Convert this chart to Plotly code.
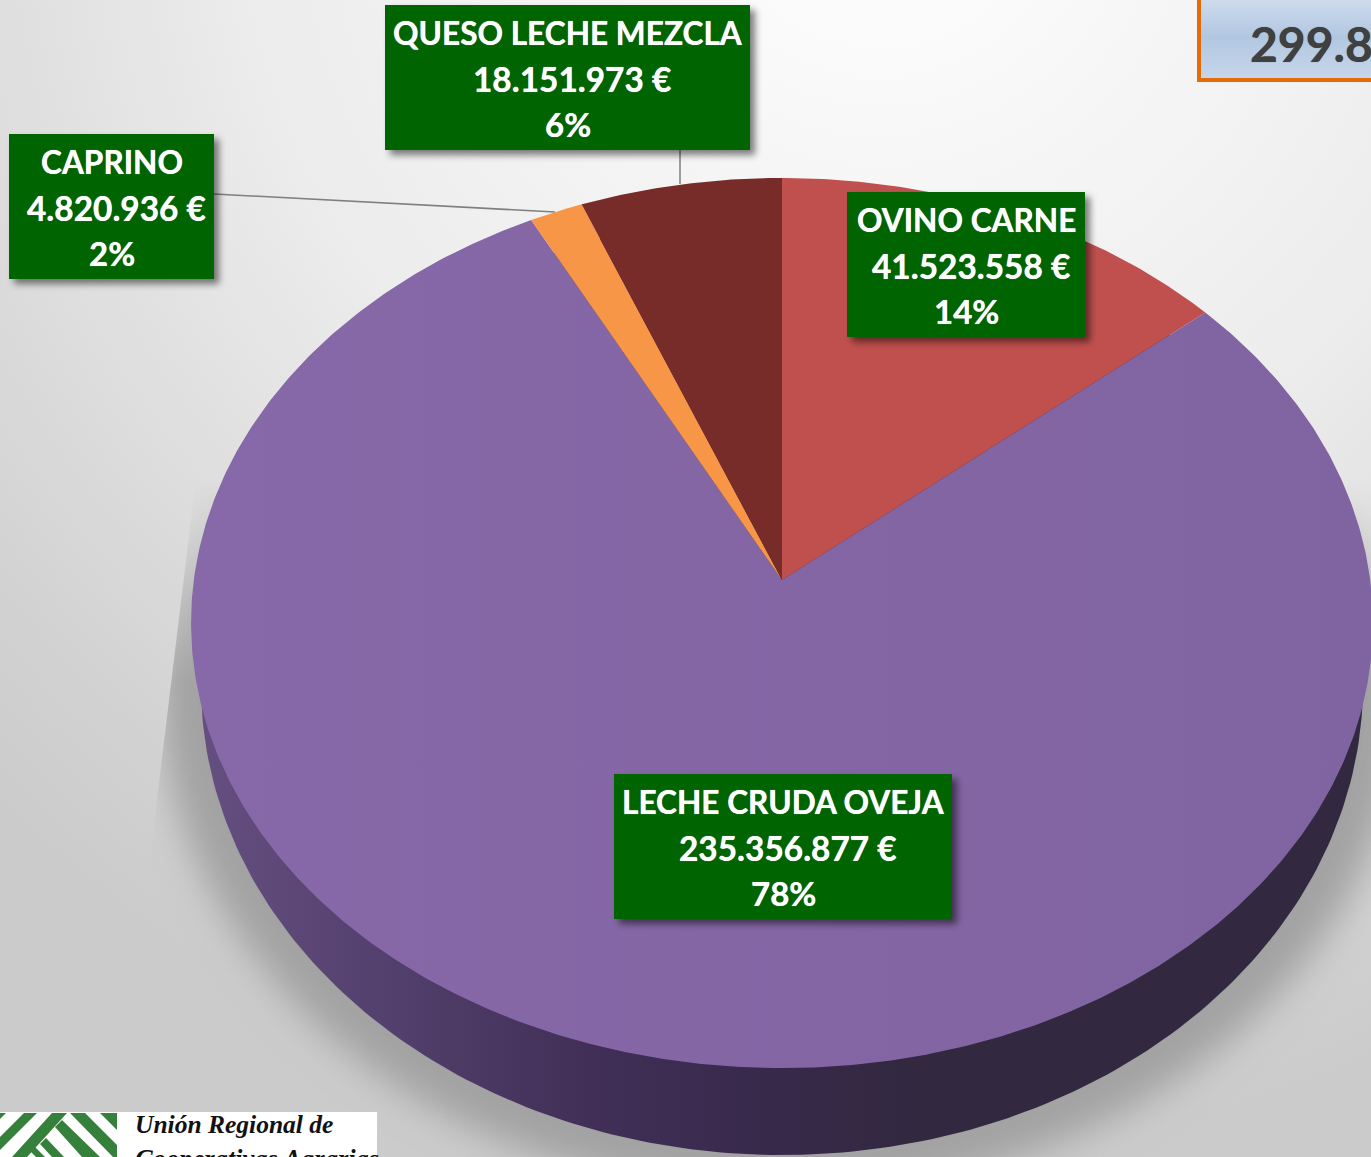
import base64
import numpy as np
import plotly.graph_objects as go

# ---- data ----
SECTORES = ["OVINO CARNE", "LECHE CRUDA OVEJA", "CAPRINO", "QUESO LECHE MEZCLA"]
IMPORTES = [41523558, 235356877, 4820936, 18151973]
COLORES = ["#c0504d", "#8365a4", "#f79646", "#772c2a"]
TOTAL_VISIBLE = "299.8"
LOGO_LINEAS = ["Unión Regional de", "Cooperativas Agrarias"]

# ---- layout constants (canvas pixels) ----
W, H = 1371, 1157
CX, CY = 782, 580        # vanishing centre of the tilted disc
A, B, K = 588.2, 440.9, -0.0966
LOW_CY, LOW_RX, LOW_RY = 685, 581, 470
CAJAS = {  # x0, y0, x1, y1
    "OVINO CARNE": (847, 192, 1085, 337),
    "LECHE CRUDA OVEJA": (614, 774, 952, 919),
    "CAPRINO": (9, 134, 214, 279),
    "QUESO LECHE MEZCLA": (385, 5, 750, 150),
}
FONT = "Lato"
THICK = "0 0 0.7px #ffffff"


def disc(theta):
    u, v = np.sin(theta), -np.cos(theta)
    d = 1 + K * v
    return CX + A * u / d, CY + B * v / d


def euro(v):
    return f"{v:,}".replace(",", ".") + " €"


svg = f'''<svg xmlns="http://www.w3.org/2000/svg" width="{W}" height="{H}" viewBox="0 0 {W} {H}">
<defs>
<radialGradient id="bg" gradientUnits="userSpaceOnUse" cx="880" cy="-120" r="1290">
<stop offset="0" stop-color="#ffffff"/><stop offset="0.5" stop-color="#ececec"/>
<stop offset="0.9" stop-color="#d0d0d0"/><stop offset="1" stop-color="#cbcbcb"/></radialGradient>
<linearGradient id="box" x1="0" y1="0" x2="0" y2="1">
<stop offset="0" stop-color="#d2deee"/><stop offset="0.5" stop-color="#b1c7e1"/><stop offset="1" stop-color="#c8d7ea"/></linearGradient>
<linearGradient id="fade" gradientUnits="userSpaceOnUse" x1="0" y1="480" x2="0" y2="680">
<stop offset="0" stop-color="#000"/><stop offset="1" stop-color="#fff"/></linearGradient>
<mask id="m" maskUnits="userSpaceOnUse" x="0" y="0" width="{W}" height="{H}"><rect width="{W}" height="{H}" fill="url(#fade)"/></mask>
<filter id="b" x="-30%" y="-30%" width="160%" height="160%"><feGaussianBlur stdDeviation="18"/></filter>
<clipPath id="c"><polygon points="197,470 146,890 146,1157 1371,1157 1371,470"/></clipPath>
</defs>
<rect width="{W}" height="{H}" fill="url(#bg)"/>
<g clip-path="url(#c)"><g mask="url(#m)"><ellipse cx="782" cy="685" rx="623" ry="510" fill="#a2a2a2" filter="url(#b)"/></g></g>
<rect x="1199" y="-6" width="200" height="86" fill="url(#box)" stroke="#e36c09" stroke-width="4"/>
<rect x="0" y="1112" width="377" height="45" fill="#ffffff"/>
<g fill="#35803a">
<polygon points="0,1113 6,1113 0,1119"/>
<polygon points="24,1113 37,1113 0,1150 0,1137"/>
<polygon points="52,1113 67,1113 27,1157 12,1157"/>
<polygon points="55,1127 62,1120 100,1157 82,1157"/>
<polygon points="70,1113 85,1113 117,1145 117,1157 113,1157"/>
<polygon points="100,1113 117,1113 117,1130"/>
<polygon points="40,1144 46,1138 64,1157 52,1157"/>
<polygon points="31,1152 35,1147 45,1157 36,1157"/>
</g>
</svg>'''

rects = "".join(
    f'<rect x="{x0 + 5}" y="{y0 + 5}" width="{x1 - x0}" height="{y1 - y0}" fill="#000" fill-opacity="0.5"/>'
    for x0, y0, x1, y1 in CAJAS.values()
)
svg_top = f'''<svg xmlns="http://www.w3.org/2000/svg" width="{W}" height="{H}" viewBox="0 0 {W} {H}">
<defs><filter id="s" x="-10%" y="-10%" width="120%" height="120%"><feGaussianBlur stdDeviation="3.5"/></filter></defs>
<g filter="url(#s)">{rects}</g></svg>'''


def uri(s):
    return "data:image/svg+xml;base64," + base64.b64encode(s.encode()).decode()


fig = go.Figure()

# side wall of the disc (lower ellipse seen beneath the top)
t = np.linspace(0, 2 * np.pi, 361)
fig.add_trace(go.Scatter(
    x=782 + LOW_RX * np.cos(t), y=LOW_CY + LOW_RY * np.sin(t),
    mode="lines", line=dict(width=0), fill="toself", hoverinfo="skip", showlegend=False,
    fillgradient=dict(type="horizontal", colorscale=[
        [0, "#654f80"], [0.09, "#5b4676"], [0.215, "#4d3b66"], [0.335, "#412f57"],
        [0.5, "#37294a"], [0.62, "#32283f"], [1, "#32283f"]]),
))

# top face: slice angles come straight from the values
fracs = np.array(IMPORTES) / sum(IMPORTES)
ends = np.cumsum(fracs) * 2 * np.pi
starts = ends - fracs * 2 * np.pi
for nombre, valor, color, a0, a1 in zip(SECTORES, IMPORTES, COLORES, starts, ends):
    th = np.linspace(a0, a1, max(int((a1 - a0) * 120), 12))
    rx, ry = disc(th)
    kw = {}
    if nombre == "LECHE CRUDA OVEJA":
        kw["fillgradient"] = dict(type="horizontal", colorscale=[[0, "#8769a9"], [0.6, "#8365a4"], [1, "#8064a1"]])
    else:
        kw["fillcolor"] = color
    fig.add_trace(go.Scatter(
        x=np.r_[CX, rx, CX], y=np.r_[CY, ry, CY], mode="lines", line=dict(width=0, color=color),
        fill="toself", name=nombre, text=f"{nombre}<br>{euro(valor)}", hoverinfo="text", showlegend=False, **kw,
    ))

shapes = [
    dict(type="line", xref="x", yref="y", x0=214, y0=194, x1=555, y1=212, line=dict(color="#7f7f7f", width=1.5), layer="below"),
    dict(type="line", xref="x", yref="y", x0=680, y0=150, x1=680, y1=184, line=dict(color="#7f7f7f", width=1.5), layer="below"),
]
annotations = []
for nombre, valor, frac in zip(SECTORES, IMPORTES, fracs):
    x0, y0, x1, y1 = CAJAS[nombre]
    shapes.append(dict(type="rect", xref="x", yref="y", x0=x0, y0=y0, x1=x1, y1=y1,
                       fillcolor="#006400", line=dict(width=0), layer="above"))
    xm = (x0 + x1) / 2
    for txt, dx, dy, fs in ((nombre, 0, 27.5, 31.6), (euro(valor), 4.5, 73.5, 33.4), (f"{round(frac * 100)}%", 0, 118.5, 33)):
        annotations.append(dict(x=xm + dx, y=y0 + dy, xref="x", yref="y", text=f"<b>{txt}</b>", showarrow=False,
                                xanchor="center", yanchor="middle",
                                font=dict(family=FONT, size=fs, color="#ffffff", shadow=THICK)))

annotations.append(dict(x=1248, y=43, xref="x", yref="y", text=f"<b>{TOTAL_VISIBLE}</b>", showarrow=False,
                        xanchor="left", yanchor="middle",
                        font=dict(family="Lato", size=48, color="#404040", shadow="0 0 0.7px #404040")))
for linea, yy, fs in zip(LOGO_LINEAS, (1108, 1142), (25.5, 26.5)):
    annotations.append(dict(x=133, y=yy, xref="x", yref="y", text=f"<b><i>{linea}</i></b>", showarrow=False,
                            xanchor="left", yanchor="top",
                            font=dict(family="Liberation Serif", size=fs, color="#111111")))

fig.update_layout(
    width=W, height=H, margin=dict(l=0, r=0, t=0, b=0, pad=0), showlegend=False,
    paper_bgcolor="#ffffff", plot_bgcolor="rgba(0,0,0,0)",
    xaxis=dict(range=[0, W], visible=False, fixedrange=True),
    yaxis=dict(range=[H, 0], visible=False, fixedrange=True),
    shapes=shapes, annotations=annotations,
    images=[
        dict(source=uri(svg), xref="paper", yref="paper", x=0, y=1, sizex=1, sizey=1,
             xanchor="left", yanchor="top", sizing="stretch", layer="below"),
        dict(source=uri(svg_top), xref="paper", yref="paper", x=0, y=1, sizex=1, sizey=1,
             xanchor="left", yanchor="top", sizing="stretch", layer="above"),
    ],
)
fig.write_html("out.html", config=dict(displayModeBar=False),
               post_script="document.body.style.margin='0';document.body.style.overflow='hidden';")
